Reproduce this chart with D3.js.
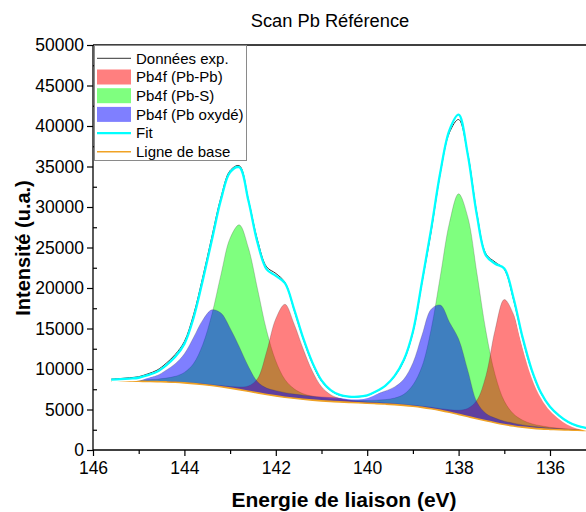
<!DOCTYPE html>
<html><head><meta charset="utf-8">
<script src="https://cdn.jsdelivr.net/npm/d3@7"></script>
<style>body{margin:0;background:#fff}svg{display:block;font-family:"Liberation Sans",Arial,sans-serif}</style>
</head><body><svg id="c" width="586" height="512"></svg>
<script>
const energies = [145.6,145.4,145.2,145.0,144.8,144.6,144.4,144.2,144.0,143.8,143.6,143.4,143.2,143.0,142.8,142.6,142.4,142.2,142.0,141.8,141.6,141.4,141.2,141.0,140.8,140.6,140.4,140.2,140.0,139.8,139.6,139.4,139.2,139.0,138.8,138.6,138.4,138.2,138.0,137.8,137.6,137.4,137.2,137.0,136.8,136.6,136.4,136.2,136.0,135.8,135.6,135.4,135.2,135.0];
const baseline = [8500,8495,8490,8480,8465,8440,8405,8360,8290,8200,8090,7960,7810,7640,7450,7250,7050,6860,6680,6520,6380,6260,6160,6070,6000,5940,5880,5830,5780,5730,5670,5600,5510,5400,5260,5090,4890,4660,4400,4130,3860,3600,3360,3150,2970,2820,2700,2610,2550,2500,2460,2430,2410,2400];
const pbPb = [25,26,28,31,34,39,44,51,58,69,84,105,140,196,326,650,1740,5290,9520,11470,9180,6200,3570,1740,825,430,260,185,150,130,120,120,120,130,150,175,215,310,505,1000,2270,5600,11480,15420,13800,9900,6500,4000,2500,1450,800,420,220,130];
const pbS = [60,75,95,125,200,300,470,735,1290,2470,4900,8760,13840,18510,20345,17710,12840,7860,4315,2180,1175,690,475,365,305,275,275,290,330,425,550,815,1360,2625,5070,9830,16575,23390,27230,24650,17980,10990,5905,2885,1495,865,540,380,250,180,120,80,60,50];
const pbOx = [120,150,200,270,500,760,1440,2290,3590,5690,7940,9340,9090,7400,5300,3060,1370,780,650,560,520,500,480,470,470,480,540,660,880,1200,1620,2190,3220,5340,8930,12290,13000,11110,9300,5700,2070,900,580,410,340,280,240,200,160,130,100,80,70,60];
const fitCurve = [8700,8750,8820,8920,9250,9650,10450,11500,13100,16300,20900,25900,30900,34300,34900,30800,25600,22300,21500,20600,17400,13800,10800,8600,7400,6800,6600,6580,6750,7250,7950,9150,11100,14600,20800,27300,34300,39500,41400,36500,29000,24000,23000,22400,18800,13900,9900,7100,5350,4250,3450,2980,2720,2580];
const expData = [8750,8820,8920,9050,9400,9850,10700,11800,13400,16700,21300,26300,31200,34500,35100,30900,25900,22600,21800,20700,17300,13700,10700,8500,7350,6760,6580,6560,6730,7230,7930,9100,11000,14500,20700,27000,34200,39200,40800,36600,29200,24200,23200,22300,18600,13800,9800,7050,5320,4230,3430,2970,2710,2570];
const xMajorTicks = [146,144,142,140,138,136];
const xMinorTicks = [145,143,141,139,137,135];
const yMajorTicks = [0,5000,10000,15000,20000,25000,30000,35000,40000,45000,50000];
const yMinorTicks = [2500,7500,12500,17500,22500,27500,32500,37500,42500,47500];
const legendLabels = ["Données exp.","Pb4f (Pb-Pb)","Pb4f (Pb-S)","Pb4f (Pb oxydé)","Fit","Ligne de base"];
const titleText = "Scan Pb Référence";
const xTitle = "Energie de liaison (eV)";
const yTitle = "Intensité (u.a.)";

const svg = d3.select("#c");
const L = 93, T = 45, B = 450, R = 641.4;
const x = d3.scaleLinear().domain([146,134]).range([L, R]);
const y = d3.scaleLinear().domain([0,50000]).range([B, T]);
const curve = d3.curveCatmullRom.alpha(0.5);
const idx = d3.range(energies.length);

svg.append("defs").append("clipPath").attr("id","clip")
  .append("rect").attr("x",L).attr("y",T).attr("width",R-L).attr("height",B-T);
const plot = svg.append("g").attr("clip-path","url(#clip)");

const comps = [
  {v: pbS, fill: "rgba(0,255,0,0.5)"},
  {v: pbPb, fill: "rgba(255,0,0,0.5)"},
  {v: pbOx, fill: "rgba(0,0,255,0.5)"}
];
comps.forEach(c => {
  plot.append("path").datum(idx)
    .attr("d", d3.area().curve(curve).x(i => x(energies[i])).y0(i => y(baseline[i])).y1(i => y(baseline[i] + c.v[i])))
    .attr("fill", c.fill);
  plot.append("path").datum(idx)
    .attr("d", d3.line().curve(curve).x(i => x(energies[i])).y(i => y(baseline[i] + c.v[i])))
    .attr("fill","none").attr("stroke","rgba(60,60,60,0.35)").attr("stroke-width",0.7);
});
const line = arr => d3.line().curve(curve).x(i => x(energies[i])).y(i => y(arr[i]));
plot.append("path").datum(idx).attr("d", line(baseline)).attr("fill","none").attr("stroke","#f0a224").attr("stroke-width",1.6);
plot.append("path").datum(idx).attr("d", line(fitCurve)).attr("fill","none").attr("stroke","#fff").attr("stroke-width",5.5);
plot.append("path").datum(idx).attr("d", line(expData)).attr("fill","none").attr("stroke","#333").attr("stroke-width",1);
plot.append("path").datum(idx).attr("d", line(fitCurve)).attr("fill","none").attr("stroke","#00ffff").attr("stroke-width",2.3);

// axes
const ax = svg.append("g");
const yAx = ax.append("g").attr("transform",`translate(${L},0)`)
  .call(d3.axisLeft(y).tickValues(yMajorTicks).tickSize(6).tickPadding(3).tickFormat(d3.format("d")));
const yMin = ax.append("g").attr("transform",`translate(${L},0)`)
  .call(d3.axisRight(y).tickValues(yMinorTicks).tickSize(4).tickFormat(""));
const xAx = ax.append("g").attr("transform",`translate(0,${B})`)
  .call(d3.axisBottom(x).tickValues(xMajorTicks).tickSize(6).tickPadding(6).tickFormat(d3.format("d")));
const xMin = ax.append("g").attr("transform",`translate(0,${B})`)
  .call(d3.axisBottom(x).tickValues(xMinorTicks).tickSize(4).tickFormat(""));
[yAx,yMin,xAx,xMin].forEach(g => {
  g.select(".domain").remove();
  g.selectAll("line").attr("stroke","#000").attr("stroke-width",1.2);
  g.selectAll("text").attr("font-size",17.5).attr("fill","#000").attr("font-family","'Liberation Sans',Arial,sans-serif");
});
ax.append("line").attr("x1",L).attr("x2",L).attr("y1",T).attr("y2",B).attr("stroke","#000").attr("stroke-width",1.3);
ax.append("line").attr("x1",L).attr("x2",R).attr("y1",B).attr("y2",B).attr("stroke","#000").attr("stroke-width",1.3);
ax.append("line").attr("x1",L).attr("x2",R).attr("y1",T).attr("y2",T).attr("stroke","#000").attr("stroke-width",1.3);

// titles
svg.append("text").attr("x",330).attr("y",27).attr("text-anchor","middle").attr("font-size",18.3).text(titleText);
svg.append("text").attr("x",344).attr("y",507).attr("text-anchor","middle").attr("font-size",21).attr("font-weight","bold").text(xTitle);
svg.append("text").attr("transform","translate(30,248) rotate(-90)").attr("text-anchor","middle").attr("font-size",20).attr("font-weight","bold").text(yTitle);

// legend
const lg = svg.append("g");
lg.append("rect").attr("x",94.5).attr("y",45.5).attr("width",152).attr("height",115).attr("fill","#fff").attr("stroke","#8a8a8a").attr("stroke-width",1);
const rowY = d3.range(legendLabels.length).map(i => 58.3 + i*18.7);
const symbols = [
  {type:"line", color:"#333", w:1},
  {type:"rect", color:"rgba(255,0,0,0.5)"},
  {type:"rect", color:"rgba(0,255,0,0.5)"},
  {type:"rect", color:"rgba(0,0,255,0.5)"},
  {type:"line", color:"#00ffff", w:2.2},
  {type:"line", color:"#f0a224", w:1.6}
];
legendLabels.forEach((lab,i) => {
  const s = symbols[i], yy = rowY[i];
  if (s.type === "line") lg.append("line").attr("x1",97).attr("x2",131).attr("y1",yy).attr("y2",yy).attr("stroke",s.color).attr("stroke-width",s.w);
  else lg.append("rect").attr("x",97).attr("y",yy-7.5).attr("width",34).attr("height",15).attr("fill",s.color);
  lg.append("text").attr("x",136).attr("y",yy).attr("dy","0.35em").attr("font-size",15).text(lab);
});
</script></body></html>
